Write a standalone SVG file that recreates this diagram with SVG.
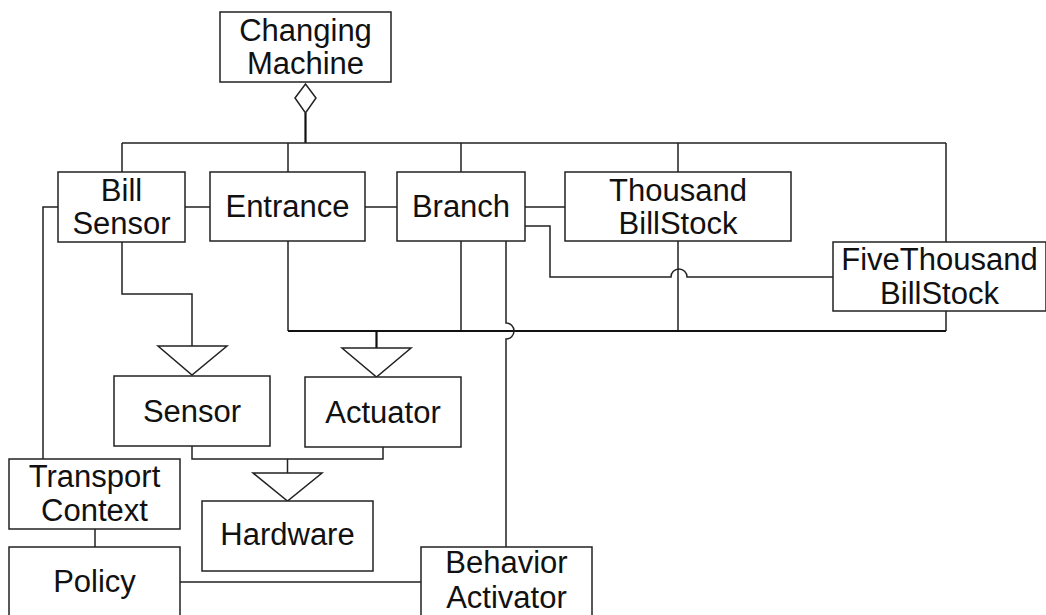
<svg xmlns="http://www.w3.org/2000/svg" width="1046" height="615" viewBox="0 0 1046 615">
<style>
.box{fill:#fff;stroke:#222;stroke-width:1.5}
.t{font-family:"Liberation Sans",Arial,sans-serif;font-size:31px;fill:#111;text-anchor:middle}
.c{fill:none;stroke:#222;stroke-width:1.5}
.k{fill:none;stroke:#111;stroke-width:2.2}
.tri{fill:#fff;stroke:#222;stroke-width:1.5}
</style>
<rect width="1046" height="615" fill="#fff"/>
<g id="connectors">
<path class="k" d="M305.5,113 V143"/>
<path class="c" d="M122,143 H946 M122,143 V172 M288,143 V172 M461,143 V172 M678,143 V172 M946,143 V242"/>
<path class="c" d="M185,207 H210 M365,207 H397 M525,207 H565"/>
<path class="c" d="M525,226 H550 V277 H671 A8,8 0 0 1 687,277 H833"/>
<path class="c" d="M58,207 H43 V459"/>
<path class="c" d="M122,242 V294 H192 V346"/>
<path class="c" d="M288,241 V331 M461,241 V331 M678,241 V331 M946,311 V331"/>
<path class="k" d="M288,331 H946 M376.5,331 V348"/>
<path class="c" d="M506,241 V323 A8,8 0 0 1 506,339 V547"/>
<path class="c" d="M192,446 V459 H383 V447 M287.5,459 V473"/>
<path class="c" d="M95,529 V547 M180,582 H421"/>
<path class="tri" d="M295,98 L305.5,84 L316,98 L305.5,113 Z"/>
<path class="tri" d="M158,346 L227,346 L192,375 Z"/>
<path class="tri" d="M342,348 L411,348 L376.5,377 Z"/>
<path class="tri" d="M253,473 L322,473 L287.5,501 Z"/>
</g>
<g id="changing-machine"><rect class="box" x="220" y="12" width="171" height="70"/><text class="t" x="305.5" y="41">Changing</text><text class="t" x="305.5" y="74">Machine</text></g>
<g id="bill-sensor"><rect class="box" x="58" y="172" width="127" height="70"/><text class="t" x="121.5" y="201">Bill</text><text class="t" x="121.5" y="234">Sensor</text></g>
<g id="entrance"><rect class="box" x="210" y="172" width="155" height="69"/><text class="t" x="287.5" y="217">Entrance</text></g>
<g id="branch"><rect class="box" x="397" y="172" width="128" height="69"/><text class="t" x="461" y="217">Branch</text></g>
<g id="thousand"><rect class="box" x="565" y="172" width="226" height="69"/><text class="t" x="678" y="201">Thousand</text><text class="t" x="678" y="234">BillStock</text></g>
<g id="fivethousand"><rect class="box" x="833" y="242" width="213" height="69"/><text class="t" x="939.5" y="270">FiveThousand</text><text class="t" x="939.5" y="304">BillStock</text></g>
<g id="sensor"><rect class="box" x="114" y="376" width="156" height="70"/><text class="t" x="192" y="422">Sensor</text></g>
<g id="actuator"><rect class="box" x="305" y="377" width="156" height="70"/><text class="t" x="383" y="423">Actuator</text></g>
<g id="transport-context"><rect class="box" x="9" y="459" width="171" height="70"/><text class="t" x="94.5" y="487">Transport</text><text class="t" x="94.5" y="521">Context</text></g>
<g id="hardware"><rect class="box" x="202" y="501" width="171" height="70"/><text class="t" x="287.5" y="545">Hardware</text></g>
<g id="policy"><rect class="box" x="9" y="547" width="171" height="75"/><text class="t" x="94.5" y="592">Policy</text></g>
<g id="behavior-activator"><rect class="box" x="421" y="547" width="171" height="75"/><text class="t" x="506.5" y="573">Behavior</text><text class="t" x="506.5" y="608">Activator</text></g>
</svg>
